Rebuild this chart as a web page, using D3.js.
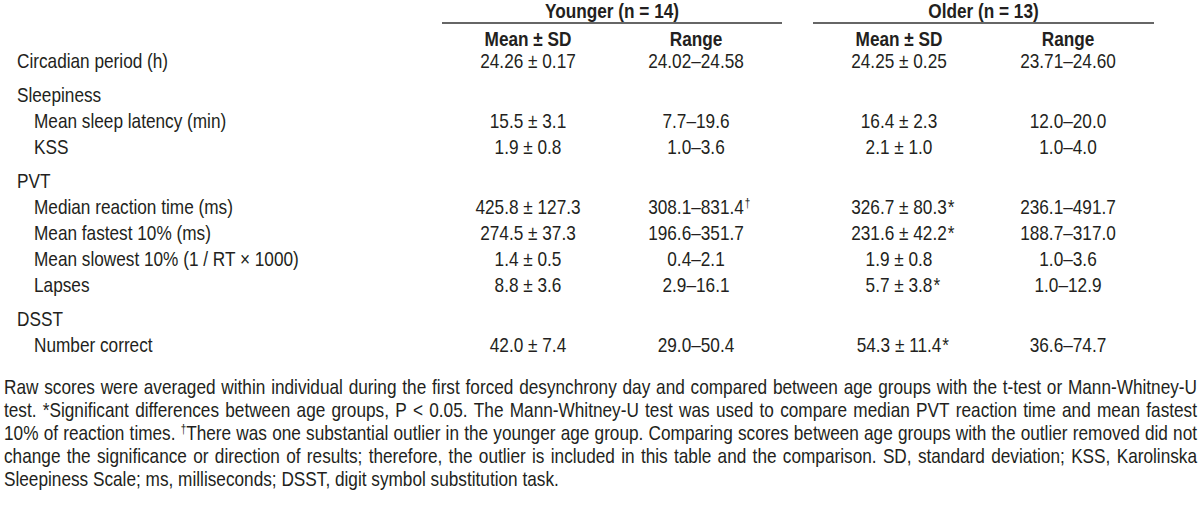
<!DOCTYPE html>
<html>
<head>
<meta charset="utf-8">
<script src="https://cdn.jsdelivr.net/npm/d3@7"></script>
<style>
  body { margin: 0; background: #fff; }
  svg text { fill: #231f20; }
</style>
</head>
<body>
<svg id="chart" width="1200" height="506"></svg>
<script>
// Table content
const groupLabels = ["Younger (n = 14)", "Older (n = 13)"];
const columnKeys = ["youngMean", "youngRange", "oldMean", "oldRange"];
const columnLabels = ["Mean ± SD", "Range", "Mean ± SD", "Range"];

const rowLabels = [
    "Circadian period (h)",
    "Sleepiness",
    "Mean sleep latency (min)",
    "KSS",
    "PVT",
    "Median reaction time (ms)",
    "Mean fastest 10% (ms)",
    "Mean slowest 10% (1 / RT × 1000)",
    "Lapses",
    "DSST",
    "Number correct"
];
const rowLevels = [0, 0, 1, 1, 0, 1, 1, 1, 1, 0, 1]; // 0 = section, 1 = indented item

const youngMean = ["24.26 ± 0.17", "", "15.5 ± 3.1", "1.9 ± 0.8", "", "425.8 ± 127.3", "274.5 ± 37.3", "1.4 ± 0.5", "8.8 ± 3.6", "", "42.0 ± 7.4"];
const youngRange = ["24.02–24.58", "", "7.7–19.6", "1.0–3.6", "", "308.1–831.4", "196.6–351.7", "0.4–2.1", "2.9–16.1", "", "29.0–50.4"];
const oldMean = ["24.25 ± 0.25", "", "16.4 ± 2.3", "2.1 ± 1.0", "", "326.7 ± 80.3", "231.6 ± 42.2", "1.9 ± 0.8", "5.7 ± 3.8", "", "54.3 ± 11.4"];
const oldRange = ["23.71–24.60", "", "12.0–20.0", "1.0–4.0", "", "236.1–491.7", "188.7–317.0", "1.0–3.6", "1.0–12.9", "", "36.6–74.7"];

// footnote marks attached to cells
const youngRangeMarks = ["", "", "", "", "", "†", "", "", "", "", ""];
const oldMeanMarks = ["", "", "", "", "", "*", "*", "", "*", "", "*"];

const footnoteLines = [
    "Raw scores were averaged within individual during the first forced desynchrony day and compared between age groups with the t-test or Mann-Whitney-U",
    "test. *Significant differences between age groups, P < 0.05. The Mann-Whitney-U test was used to compare median PVT reaction time and mean fastest",
    "10% of reaction times. †There was one substantial outlier in the younger age group. Comparing scores between age groups with the outlier removed did not",
    "change the significance or direction of results; therefore, the outlier is included in this table and the comparison. SD, standard deviation; KSS, Karolinska",
    "Sleepiness Scale; ms, milliseconds; DSST, digit symbol substitution task."
];

// Pick a condensed face; squeeze a regular one if no narrow face is installed
const ctx = document.createElement("canvas").getContext("2d");
ctx.font = '20px "Liberation Sans Narrow", monospace';
const wNarrow = ctx.measureText("Circadian period (h)").width;
ctx.font = '20px monospace';
const wMono = ctx.measureText("Circadian period (h)").width;
const hasNarrow = Math.abs(wNarrow - wMono) > 0.5;
const FONT = hasNarrow ? '"Liberation Sans Narrow", "Arial Narrow", sans-serif' : '"Liberation Sans", Arial, sans-serif';
const SX = hasNarrow ? 1 : 0.82;
const FONT_SIZE = 21;

const svg = d3.select("#chart");

// Column centres and row baselines
const x = d3.scaleOrdinal().domain(columnKeys).range([528, 696, 899, 1068]);
const LABEL_X = 17, INDENT = 17;
const ROW_STEP = 26, SECTION_GAP = 8;
let yPos = 68;
const baselines = rowLabels.map((d, i) => {
    if (i > 0) yPos += ROW_STEP + (rowLevels[i] === 0 ? SECTION_GAP : 0);
    return yPos;
});
const y = d3.scaleOrdinal().domain(rowLabels).range(baselines);

// helper: a text placed at (px, py), squeezed horizontally by SX
function put(parent, px, py, str, anchor, weight) {
    const g = parent.append("g").attr("transform", `translate(${px},${py}) scale(${SX},1)`);
    const t = g.append("text")
        .attr("text-anchor", anchor || "start")
        .style("font-family", FONT)
        .style("font-size", FONT_SIZE + "px")
        .style("font-weight", weight || "normal")
        .text(str);
    return t;
}

// Group headers with rules underneath
const RULE_PAD = 86;
const groupCols = [["youngMean", "youngRange"], ["oldMean", "oldRange"]];
const head = svg.append("g");
groupLabels.forEach((lab, i) => {
    const x0 = d3.min(groupCols[i], k => x(k)) - RULE_PAD;
    const x1 = d3.max(groupCols[i], k => x(k)) + RULE_PAD;
    put(head, (x0 + x1) / 2, 18, lab, "middle", "bold");
    head.append("line")
        .attr("x1", x0).attr("x2", x1)
        .attr("y1", 23).attr("y2", 23)
        .attr("stroke", "#333")
        .attr("stroke-width", 1.6);
});

columnKeys.forEach((k, i) => put(head, x(k), 46, columnLabels[i], "middle", "bold"));

// Row labels
const body = svg.append("g");
rowLabels.forEach((lab, i) => {
    put(body, LABEL_X + rowLevels[i] * INDENT, y(lab), lab, "start");
});

// Cells
const columns = [
    { key: "youngMean", values: youngMean, marks: null },
    { key: "youngRange", values: youngRange, marks: youngRangeMarks },
    { key: "oldMean", values: oldMean, marks: oldMeanMarks },
    { key: "oldRange", values: oldRange, marks: null }
];
columns.forEach(col => {
    col.values.forEach((v, i) => {
        if (!v) return;
        const cx = x(col.key), cy = y(rowLabels[i]);
        const t = put(body, cx, cy, v, "middle");
        const m = col.marks && col.marks[i];
        if (m) {
            const w = t.node().getComputedTextLength() * SX;
            const mt = put(body, cx + w / 2 + 1, cy, m, "start");
            if (m === "†") mt.style("font-size", "12px").attr("dy", -7);
        }
    });
});

// Footnote, justified word by word
const NOTE_X0 = 4, NOTE_X1 = 1197;
const NOTE_Y0 = 394, NOTE_STEP = 23;
const note = svg.append("g");
const probe = svg.append("g");
const spaceW = (() => {
    const a = put(probe, 0, -100, "a a").node().getComputedTextLength();
    const b = put(probe, 0, -100, "aa").node().getComputedTextLength();
    return (a - b) * SX;
})();
probe.remove();

function putWord(parent, px, py, word) {
    const g = parent.append("g").attr("transform", `translate(${px},${py}) scale(${SX},1)`);
    const t = g.append("text")
        .style("font-family", FONT)
        .style("font-size", FONT_SIZE + "px");
    if (word.startsWith("†")) {
        t.append("tspan").text("†").style("font-size", "12px").attr("dy", -7);
        t.append("tspan").text(word.slice(1)).attr("dy", 7);
    } else {
        t.text(word);
    }
    return t.node().getComputedTextLength() * SX;
}

footnoteLines.forEach((line, li) => {
    const words = line.split(" ");
    const py = NOTE_Y0 + li * NOTE_STEP;
    const lineG = note.append("g");
    // measure first
    const tmp = svg.append("g");
    const widths = words.map(w => putWord(tmp, 0, -200, w));
    tmp.remove();
    const total = d3.sum(widths);
    const last = li === footnoteLines.length - 1;
    const gap = last ? spaceW : Math.max(spaceW * 0.8, (NOTE_X1 - NOTE_X0 - total) / (words.length - 1));
    let px = NOTE_X0;
    words.forEach((w, wi) => {
        putWord(lineG, px, py, w);
        px += widths[wi] + gap;
    });
});
</script>
</body>
</html>
